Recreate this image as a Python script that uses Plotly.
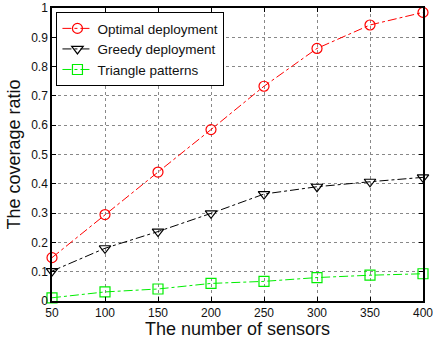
import plotly.graph_objects as go

sensors = [50, 100, 150, 200, 250, 300, 350, 400]
optimal = [0.148, 0.295, 0.44, 0.585, 0.733, 0.862, 0.942, 0.985]
greedy = [0.102, 0.18, 0.237, 0.299, 0.365, 0.39, 0.407, 0.422]
triangle = [0.011, 0.031, 0.041, 0.06, 0.067, 0.08, 0.088, 0.093]
x_ticks = [50, 100, 150, 200, 250, 300, 350, 400]
y_ticks = [0, 0.1, 0.2, 0.3, 0.4, 0.5, 0.6, 0.7, 0.8, 0.9, 1]
y_labels = ["0", "0.1", "0.2", "0.3", "0.4", "0.5", "0.6", "0.7", "0.8", "0.9", "1"]

FONT = "Liberation Sans, Arial, Helvetica, sans-serif"

fig = go.Figure()
series = [
    ("Optimal deployment", optimal, "#ff0000", "circle-open"),
    ("Greedy deployment", greedy, "#000000", "triangle-down-open"),
    ("Triangle patterns", triangle, "#00ee00", "square-open"),
]
for name, vals, col, sym in series:
    fig.add_trace(go.Scatter(
        x=sensors, y=vals, name=name, mode="lines+markers",
        line=dict(color=col, width=1, dash="dashdot"),
        marker=dict(symbol=sym, size=10, color=col, line=dict(color=col, width=1.2)),
        cliponaxis=False,
    ))

axis_common = dict(
    showline=True, linecolor="black", linewidth=1.5, mirror="ticks",
    ticks="inside", ticklen=4, tickcolor="black",
    showgrid=True, gridcolor="#888888", griddash="dot", gridwidth=1,
    zeroline=False, tickfont=dict(family=FONT, size=12, color="#111"),
    ticklabeloverflow="allow", automargin=False,
)

fig.update_xaxes(range=[50, 400], tickvals=x_ticks, ticktext=[str(v) for v in x_ticks],
                 title=dict(text="The number of sensors", font=dict(family=FONT, size=18, color="#111"), standoff=1),
                 **axis_common)
fig.update_yaxes(range=[0, 1], tickvals=y_ticks, ticktext=y_labels,
                 title=dict(text="The coverage ratio", font=dict(family=FONT, size=18, color="#111"), standoff=6),
                 **axis_common)

fig.update_layout(
    width=433, height=339,
    margin=dict(l=52, r=10, t=8, b=38, autoexpand=False),
    paper_bgcolor="white", plot_bgcolor="white",
    font=dict(family=FONT, color="#111"),
    legend=dict(
        x=0.012, y=0.986, xanchor="left", yanchor="top",
        bgcolor="white", bordercolor="black", borderwidth=1,
        font=dict(family=FONT, size=13.5, color="#111"),
        tracegroupgap=0, itemwidth=30,
    ),
    showlegend=True,
)

fig.write_html("out.html")
